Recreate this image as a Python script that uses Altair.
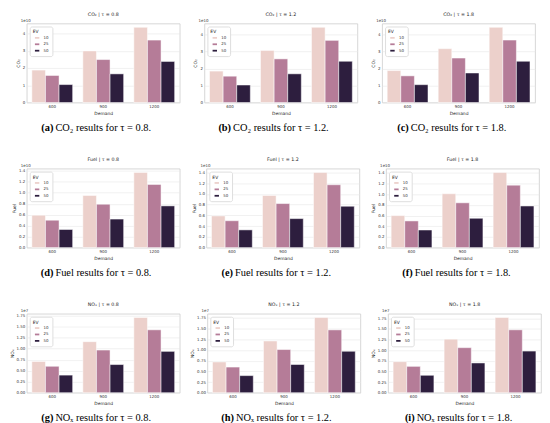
import altair as alt
import pandas as pd

demand = ["600", "900", "1200"]
ev = ["10", "25", "50"]
taus = ["0.8", "1.2", "1.8"]

# values ordered: demand 600 (EV 10,25,50), 900 (...), 1200 (...)
co2_t08 = [1.88, 1.57, 1.04, 2.99, 2.49, 1.66, 4.36, 3.62, 2.38]
co2_t12 = [1.85, 1.55, 1.03, 3.07, 2.57, 1.69, 4.43, 3.66, 2.43]
co2_t18 = [1.88, 1.57, 1.05, 3.17, 2.62, 1.74, 4.43, 3.68, 2.43]
fuel_t08 = [0.59, 0.50, 0.33, 0.95, 0.79, 0.52, 1.37, 1.15, 0.76]
fuel_t12 = [0.59, 0.50, 0.33, 0.97, 0.82, 0.54, 1.40, 1.17, 0.77]
fuel_t18 = [0.60, 0.50, 0.33, 1.01, 0.84, 0.55, 1.41, 1.17, 0.78]
nox_t08 = [0.71, 0.60, 0.40, 1.16, 0.97, 0.64, 1.71, 1.43, 0.94]
nox_t12 = [0.72, 0.60, 0.40, 1.21, 1.01, 0.66, 1.76, 1.47, 0.97]
nox_t18 = [0.73, 0.62, 0.41, 1.26, 1.06, 0.70, 1.77, 1.48, 0.98]

co2_ticks = [0, 1, 2, 3, 4]
fuel_ticks = [0.0, 0.2, 0.4, 0.6, 0.8, 1.0, 1.2, 1.4]
nox_ticks = [0.0, 0.25, 0.5, 0.75, 1.0, 1.25, 1.5, 1.75]

ev_colors = ["#ecd0cb", "#b57c98", "#2d1e3e"]

rows = [
    ("CO₂", "CO₂", [co2_t08, co2_t12, co2_t18], co2_ticks, "d", "1e10", ["a", "b", "c"], 12),
    ("Fuel", "Fuel", [fuel_t08, fuel_t12, fuel_t18], fuel_ticks, ".1f", "1e10", ["d", "e", "f"], 10),
    ("NOₓ", "NOₓ", [nox_t08, nox_t12, nox_t18], nox_ticks, ".2f", "1e7", ["g", "h", "i"], 8),
]

W, H = 155, 80
CAP_DY = 26
SANS = "DejaVu Sans"
SERIF = "Liberation Serif"


def panel(metric, cap_metric, values, ticks, fmt, offset_txt, tau, letter):
    recs = []
    k = 0
    for d in demand:
        for e in ev:
            recs.append({"Demand": d, "EV": e, "Value": values[k]})
            k += 1
    df = pd.DataFrame(recs)
    ymax = max(values) * 1.05
    bars = alt.Chart(df).mark_bar(stroke="white", strokeWidth=0.5).encode(
        x=alt.X("Demand:N", sort=demand, title="Demand",
                scale=alt.Scale(paddingInner=0.2, paddingOuter=0.1),
                axis=alt.Axis(labelAngle=0, grid=False)),
        xOffset=alt.XOffset("EV:N", sort=ev,
                            scale=alt.Scale(paddingInner=0, paddingOuter=0)),
        y=alt.Y("Value:Q", title=metric,
                scale=alt.Scale(domain=[0, ymax], nice=False, zero=True),
                axis=alt.Axis(values=ticks, format=fmt, grid=True)),
        color=alt.Color("EV:N", sort=ev,
                        scale=alt.Scale(domain=ev, range=ev_colors),
                        legend=alt.Legend(title="EV", orient="top-left")),
    )
    one = pd.DataFrame({"t": [0]})
    off = alt.Chart(one).mark_text(font=SANS, fontSize=4, color="#333333",
                                   align="left", baseline="bottom").encode(
        x=alt.value(-6), y=alt.value(-1), text=alt.value(offset_txt))
    cap_b = alt.Chart(one).mark_text(font=SERIF, fontSize=10.5, fontWeight="bold",
                                     color="black", align="right", baseline="middle").encode(
        x=alt.value(27), y=alt.value(H + CAP_DY), text=alt.value(f"({letter})"))
    cap_r = alt.Chart(one).mark_text(font=SERIF, fontSize=10.5, color="black",
                                     align="left", baseline="middle").encode(
        x=alt.value(29), y=alt.value(H + CAP_DY),
        text=alt.value(f"{cap_metric} results for τ = {tau}."))
    return alt.layer(bars, off, cap_b, cap_r).properties(
        width=W, height=H,
        title=alt.Title(f"{metric} | τ = {tau}", fontSize=4.8, font=SANS,
                        fontWeight="normal", color="#222222", offset=2,
                        frame="group"),
    )


row_charts = []
for metric, cap_metric, vals, ticks, fmt, offt, letters, sp in rows:
    panels = [panel(metric, cap_metric, vals[i], ticks, fmt, offt, taus[i], letters[i])
              for i in range(3)]
    row_charts.append(alt.hconcat(*panels, spacing=sp).resolve_scale(color="independent"))

chart = alt.vconcat(*row_charts, spacing=22).resolve_scale(
    color="independent"
).properties(padding=0).configure_view(
    stroke="#cccccc", strokeWidth=0.8
).configure_axis(
    labelFont=SANS, titleFont=SANS, labelFontSize=4, titleFontSize=4.5,
    labelColor="#333333", titleColor="#222222", titleFontWeight="normal",
    ticks=False, domain=False, labelPadding=2, titlePadding=2,
    gridColor="#e8e8e8", gridWidth=0.6,
).configure_legend(
    titleFont=SANS, labelFont=SANS, titleFontSize=4.5, labelFontSize=4,
    titleFontWeight="normal", titleColor="#222222", labelColor="#333333",
    symbolType="M-1,-0.4L1,-0.4L1,0.4L-1,0.4Z", symbolSize=20,
    symbolStrokeWidth=0, rowPadding=1.5, padding=3, offset=3,
    strokeColor="#dddddd", fillColor="white", cornerRadius=2, titlePadding=1.5,
    symbolOffset=2, labelOffset=4,
)

chart.save("out.html", embed_options={"renderer": "svg", "actions": False})
